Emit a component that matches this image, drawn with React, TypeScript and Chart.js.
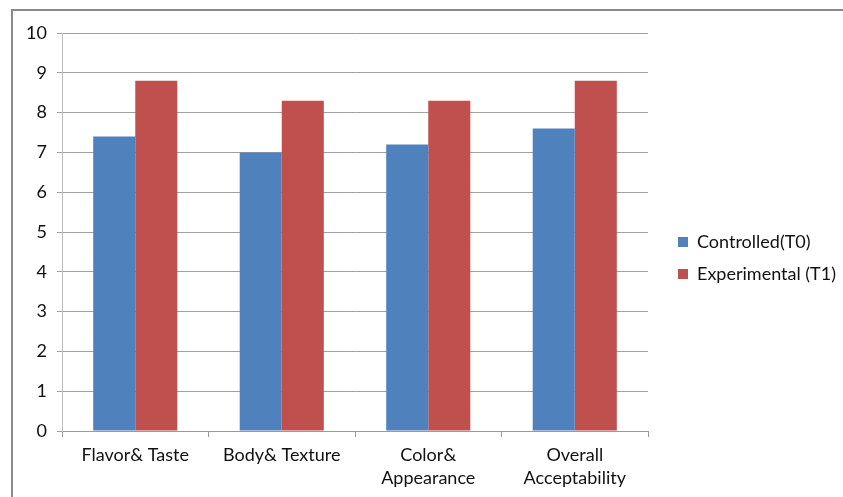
import React, { useEffect, useRef } from "react";
import { Chart, registerables } from "chart.js";

Chart.register(...registerables);

const categories: (string | string[])[] = [
  "Flavor& Taste",
  "Body& Texture",
  ["Color&", "Appearance"],
  ["Overall", "Acceptability"],
];
const controlledValues = [7.4, 7.0, 7.2, 7.6];
const experimentalValues = [8.8, 8.3, 8.3, 8.8];
const seriesNames = ["Controlled(T0)", "Experimental (T1)"];
const yMin = 0;
const yMax = 10;
const yStep = 1;

const FONT = "Lato, 'Open Sans', sans-serif";

const legendShift = {
  id: "legendShift",
  afterLayout(chart: any) {
    const lg = chart.legend;
    if (!lg) return;
    const dx = 664 - lg.left;
    const dy = 219 - lg.top;
    lg.left += dx;
    lg.right += dx;
    lg.top += dy;
    lg.bottom += dy;
  },
};

export default function App() {
  const ref = useRef<HTMLCanvasElement | null>(null);
  useEffect(() => {
    if (!ref.current) return;
    const chart = new Chart(ref.current, {
      type: "bar",
      data: {
        labels: categories,
        datasets: [
          {
            label: seriesNames[0],
            data: controlledValues,
            backgroundColor: "#4F81BD",
            categoryPercentage: 0.574,
            barPercentage: 1,
          },
          {
            label: seriesNames[1],
            data: experimentalValues,
            backgroundColor: "#C0504D",
            categoryPercentage: 0.574,
            barPercentage: 1,
          },
        ],
      },
      options: {
        animation: false,
        responsive: false,
        maintainAspectRatio: false,
        layout: { padding: { top: 33, right: 13, bottom: 0, left: 0 } },
        plugins: {
          tooltip: { enabled: false },
          legend: {
            position: "right",
            align: "start",
            labels: {
              boxWidth: 10,
              boxHeight: 10,
              padding: 14,
              color: "#111",
              font: { family: FONT, size: 18 },
            },
          },
        },
        scales: {
          x: {
            grid: {
              offset: true,
              drawOnChartArea: false,
              drawTicks: true,
              tickLength: 6,
              color: "#9a9a9a",
            },
            border: { color: "#9a9a9a", width: 1 },
            ticks: {
              color: "#111",
              font: { family: FONT, size: 18, lineHeight: 1.28 },
              maxRotation: 0,
              autoSkip: false,
              padding: 7,
            },
            afterFit: (s: any) => {
              s.height = 66;
            },
          },
          y: {
            min: yMin,
            max: yMax,
            grid: {
              color: "#a0a0a0",
              tickLength: 5,
              drawTicks: true,
            },
            border: { color: "#bdbdbd", width: 1 },
            ticks: {
              stepSize: yStep,
              color: "#111",
              font: { family: FONT, size: 18 },
              padding: 10,
            },
            afterFit: (s: any) => {
              s.width = 62;
            },
          },
        },
      },
      plugins: [legendShift],
    } as any);
    return () => chart.destroy();
  }, []);

  return (
    <div
      style={{
        position: "absolute",
        left: 0,
        top: 0,
        width: 843,
        height: 497,
        overflow: "hidden",
        background: "#fff",
      }}
    >
      <div
        style={{
          position: "absolute",
          left: 11,
          top: 9,
          width: 900,
          height: 600,
          border: "2px solid #8a8a8a",
          boxSizing: "border-box",
        }}
      />
      <canvas
        ref={ref}
        width={843}
        height={497}
        style={{ position: "absolute", left: 0, top: 0, width: 843, height: 497 }}
      />
    </div>
  );
}
